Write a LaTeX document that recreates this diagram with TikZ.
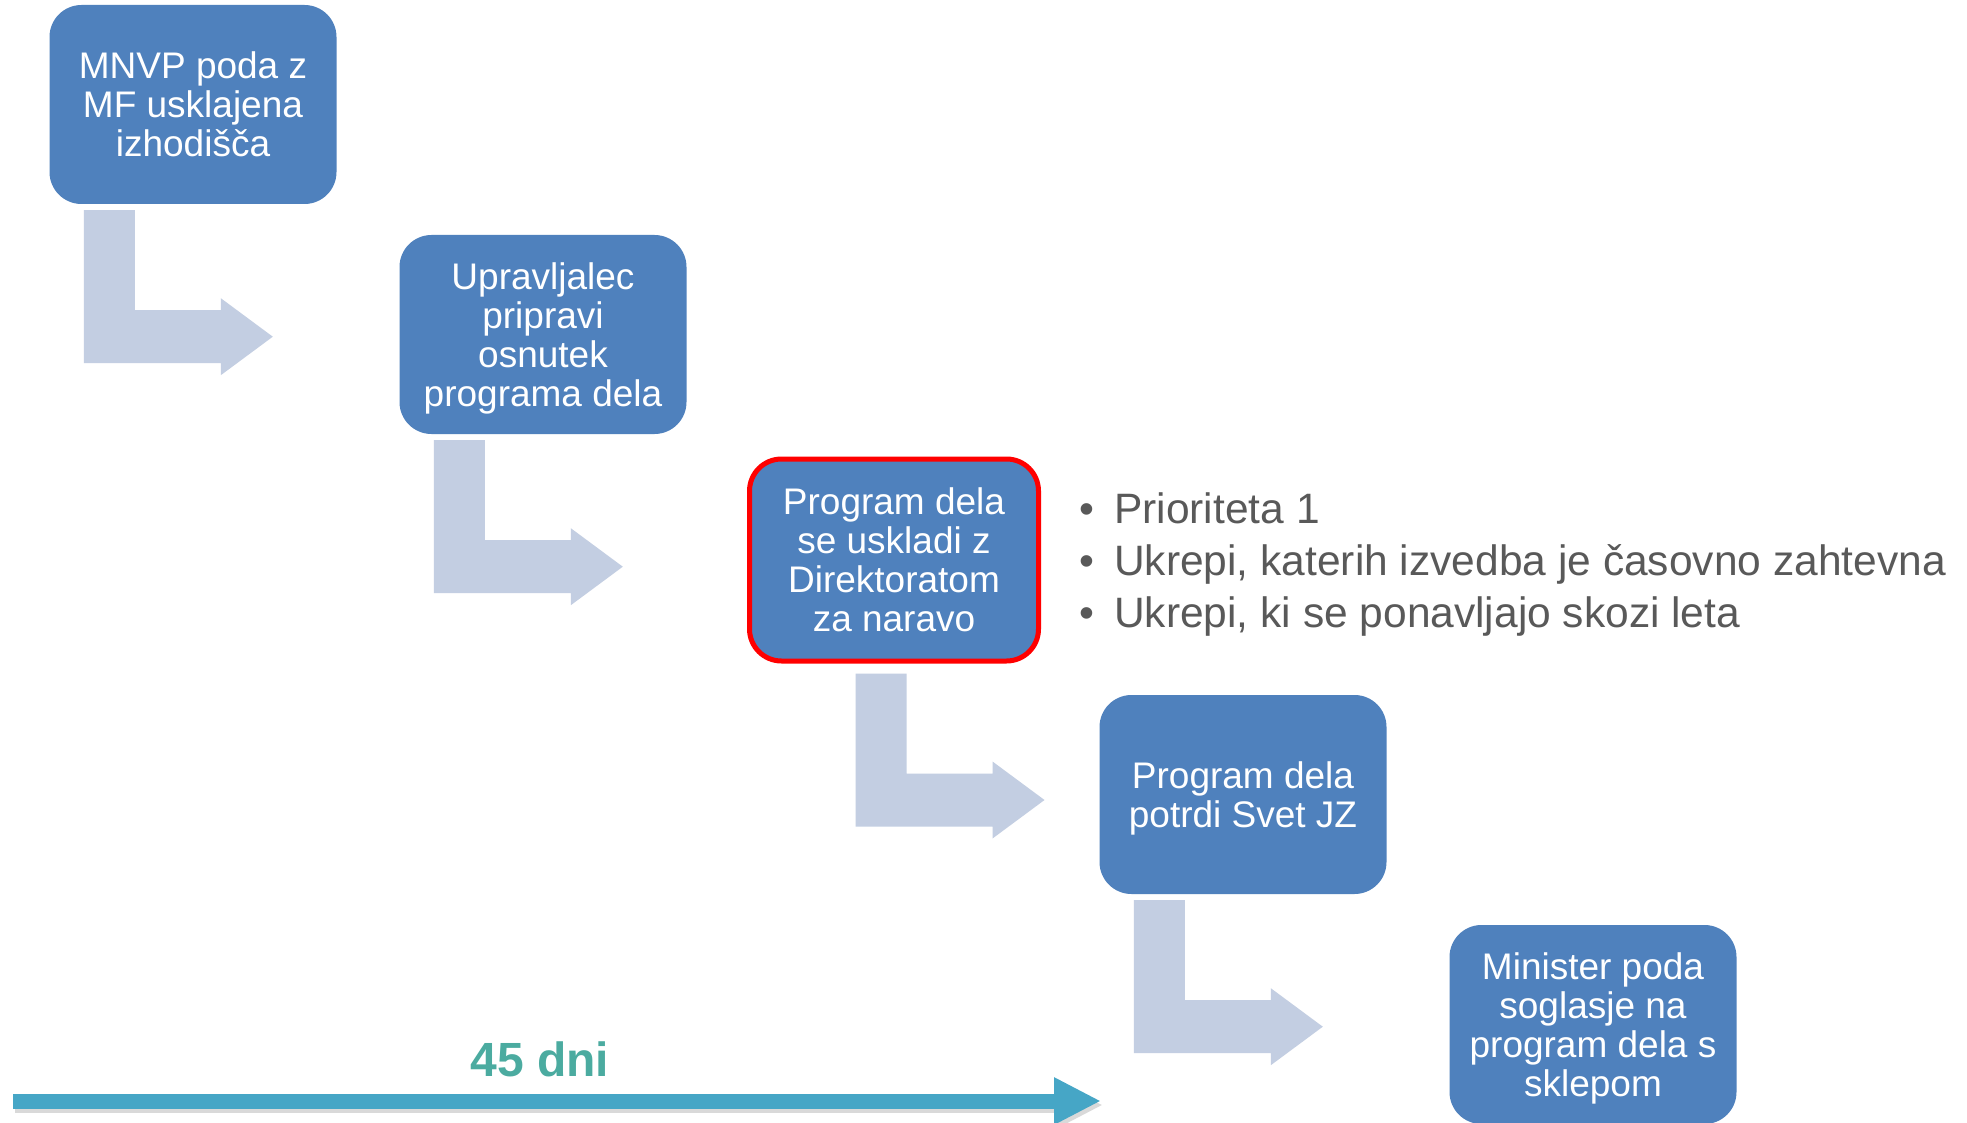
\documentclass[tikz,border=0pt]{standalone}
\usepackage{fontspec}
\setmainfont{Liberation Sans}
\usetikzlibrary{calc,arrows.meta}
\definecolor{boxblue}{RGB}{79,129,189}
\definecolor{arrowgray}{RGB}{195,206,226}
\definecolor{lineblue}{RGB}{70,166,198}
\definecolor{tealtext}{RGB}{75,171,160}
\definecolor{bullgray}{RGB}{89,89,89}
\begin{document}
\begin{tikzpicture}[x=1pt,y=-1pt,
  stepbox/.style={fill=boxblue, rounded corners=32pt, minimum width=287pt, minimum height=199pt,
    inner sep=0pt, align=center, text=white, text depth=0pt, font=\fontsize{37}{39}\selectfont},
  hilite/.style={draw=red, line width=5pt, minimum width=289pt, minimum height=202pt},
  bentarrow/.pic={\fill[arrowgray] (0,0) -- (51,0) -- (51,100) -- (137,100) -- (137,88) -- (189,126.5) -- (137,165) -- (137,153) -- (0,153) -- cycle;},
  bultxt/.style={anchor=base west, inner sep=0pt, text=bullgray, font=\fontsize{42.5}{52}\selectfont}
]
\useasboundingbox (0,0) rectangle (1967,1123);
\fill[white] (0,0) rectangle (1967,1123);

\node[stepbox] (b1) at (193,104.5) {MNVP poda z\\MF usklajena\\izhodišča};
\node[stepbox] (b2) at (543,334.5) {Upravljalec\\pripravi\\osnutek\\programa dela};
\node[stepbox, hilite] (b3) at (894,560) {Program dela\\se uskladi z\\Direktoratom\\za naravo};
\node[stepbox] (b4) at (1243,794.5) {Program dela\\potrdi Svet JZ};
\node[stepbox] (b5) at (1593,1024.5) {Minister poda\\soglasje na\\program dela s\\sklepom};

\pic at ($(b1.south west)+(34.5,6)$) {bentarrow};
\pic at ($(b2.south west)+(34.5,6)$) {bentarrow};
\pic at ($(b3.south west)+(108.5,10)$) {bentarrow};
\pic at ($(b4.south west)+(34.5,6)$) {bentarrow};

\node[bultxt] (d1) at (1079,523) {•};
\node[bultxt] (t1) at (1114,523) {Prioriteta 1};
\node[bultxt] (d2) at (1079,575) {•};
\node[bultxt] (t2) at (1114,575) {Ukrepi, katerih izvedba je časovno zahtevna};
\node[bultxt] (d3) at (1079,627) {•};
\node[bultxt] (t3) at (1114,627) {Ukrepi, ki se ponavljajo skozi leta};

\node[anchor=base, inner sep=0pt, text=tealtext, font=\bfseries\fontsize{48}{50}\selectfont] (days) at (540,1076) {45 dni};

\coordinate (tlS) at (13,1101);
\coordinate (tlE) at (1101,1101);
\draw[black, opacity=0.15, line width=15pt, -{Triangle[length=47pt,width=44pt]}] ($(tlS)+(2,4)$) -- ($(tlE)+(2,4)$);
\draw[lineblue, line width=15pt, -{Triangle[length=47pt,width=44pt]}] (tlS) -- (tlE);
\end{tikzpicture}
\end{document}
